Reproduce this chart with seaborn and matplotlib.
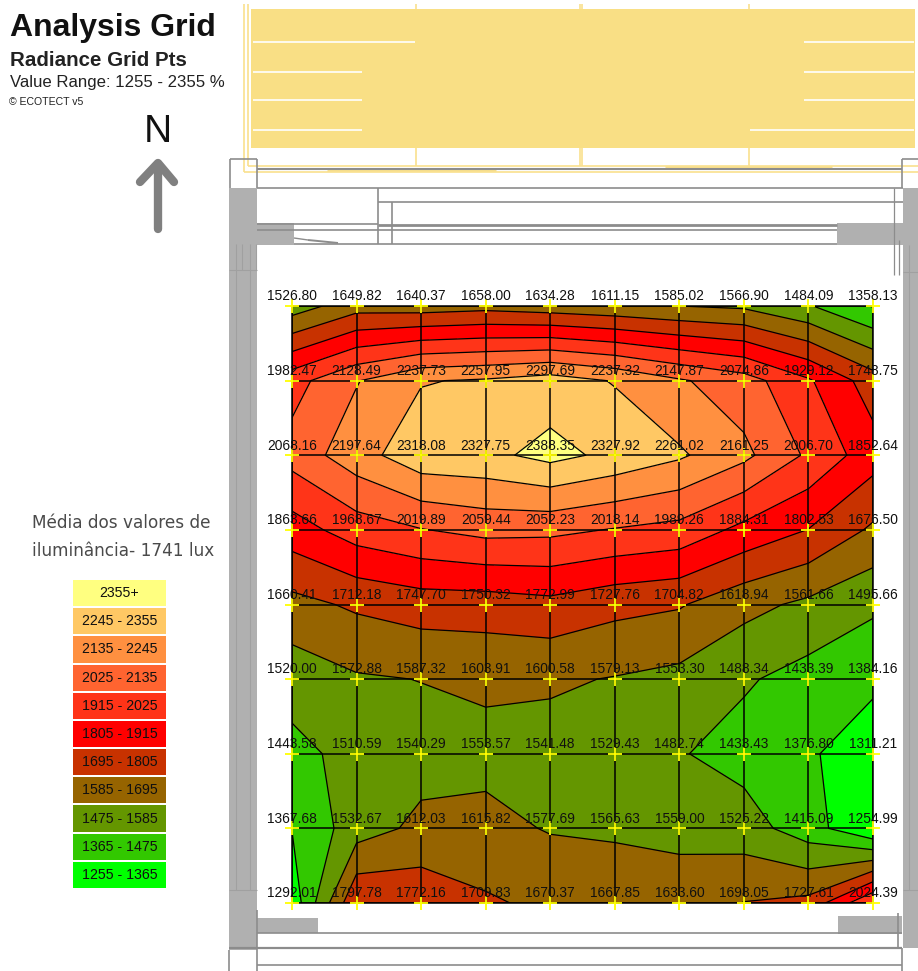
import numpy as np
import pandas as pd
import matplotlib
matplotlib.use("Agg")
import matplotlib.pyplot as plt
from matplotlib.colors import ListedColormap
from matplotlib.patches import Rectangle
import seaborn as sns

# ---------- data ----------
row1 = [1526.80, 1649.82, 1640.37, 1658.00, 1634.28, 1611.15, 1585.02, 1566.90, 1484.09, 1358.13]
row2 = [1982.47, 2128.49, 2237.73, 2257.95, 2297.69, 2237.32, 2147.87, 2074.86, 1929.12, 1748.75]
row3 = [2068.16, 2197.64, 2318.08, 2327.75, 2388.35, 2327.92, 2261.02, 2161.25, 2006.70, 1852.64]
row4 = [1863.66, 1968.67, 2019.89, 2059.44, 2052.23, 2018.14, 1989.26, 1884.31, 1802.53, 1676.50]
row5 = [1660.41, 1712.18, 1747.70, 1750.32, 1772.99, 1727.76, 1704.82, 1618.94, 1561.66, 1495.66]
row6 = [1520.00, 1572.88, 1587.32, 1603.91, 1600.58, 1579.13, 1553.30, 1488.34, 1433.39, 1384.16]
row7 = [1443.58, 1510.59, 1540.29, 1553.57, 1541.48, 1529.43, 1482.74, 1433.43, 1376.80, 1311.21]
row8 = [1367.68, 1532.67, 1612.03, 1615.82, 1577.69, 1565.63, 1559.00, 1525.22, 1415.09, 1254.99]
row9 = [1292.01, 1797.78, 1772.16, 1709.83, 1670.37, 1667.85, 1633.60, 1698.05, 1727.61, 2024.39]

band_edges = [1255, 1365, 1475, 1585, 1695, 1805, 1915, 2025, 2135, 2245, 2355]
band_colors = ["#00FF00", "#32C800", "#649600", "#966400", "#C83200", "#FF0000",
               "#FF3418", "#FF6430", "#FF9040", "#FFC864", "#FFFF80"]
legend_labels = ["2355+", "2245 - 2355", "2135 - 2245", "2025 - 2135", "1915 - 2025",
                 "1805 - 1915", "1695 - 1805", "1585 - 1695", "1475 - 1585",
                 "1365 - 1475", "1255 - 1365"]

# ---------- setup ----------
sns.set_theme(style="white")
plt.rcParams["font.family"] = ["Liberation Sans", "DejaVu Sans"]
W, H = 918, 971
fig = plt.figure(figsize=(W / 100, H / 100), dpi=100, facecolor="white")


def px_axes(x0, y0, x1, y1, **kw):
    return fig.add_axes([x0 / W, 1 - y1 / H, (x1 - x0) / W, (y1 - y0) / H], **kw)


# ---------- building plan (background, in pixels) ----------
bg = px_axes(0, 0, W, H)
bg.set_xlim(0, W)
bg.set_ylim(H, 0)
bg.axis("off")
GF, GL, GD = "#b0b0b0", "#a0a0a0", "#8c8c8c"
YF, YL = "#F9DF85", "#F9E08E"


def box(x0, y0, x1, y1, color):
    bg.add_patch(Rectangle((x0, y0), x1 - x0, y1 - y0, fc=color, ec="none"))


def seg(x0, y0, x1, y1, color=GD, lw=1.2):
    bg.plot([x0, x1], [y0, y1], color=color, lw=lw, solid_capstyle="butt")


# roof overhang
box(251, 9, 915, 148, YF)
for y, l, r in [(42, 415, 804), (72, 362, 804), (100, 362, 804), (130, 362, 750)]:
    seg(253, y, l, y, "white", 1.2)
    seg(r, y, 914, y, "white", 1.2)
seg(244, 4, 244, 172, YL, 1.2)
seg(248, 4, 248, 166, YL, 1.2)
seg(244, 172, 918, 172, YL, 1.2)
seg(248, 166, 918, 166, YL, 1.2)
for x in (416, 580, 582, 749):
    seg(x, 4, x, 9, YL, 1.2)
    seg(x, 148, x, 166, YL, 1.2)
seg(327, 170, 496, 170, YL, 2)
seg(665, 167, 832, 167, YL, 2)

# columns
box(229, 188, 257, 950, GF)
box(903, 188, 918, 948, GF)
for x in (236, 242, 250, 256):
    seg(x, 244, x, 270, GL, 0.8)
for x in (236, 250):
    seg(x, 270, x, 890, GL, 0.8)
seg(229, 270, 257, 270, GL, 0.8)
seg(229, 890, 257, 890, GL, 0.8)
seg(909, 245, 909, 890, GL, 0.8)
seg(903, 272, 918, 272, GL, 0.8)
seg(903, 890, 918, 890, GL, 0.8)
seg(899, 240, 899, 275, GD, 0.9)

# upper wall lines
seg(230, 159, 257, 159)
seg(230, 159, 230, 188)
seg(257, 159, 257, 188)
seg(902, 159, 918, 159)
seg(902, 159, 902, 188)
seg(257, 169, 902, 169, GD, 1.5)
seg(257, 188, 903, 188)
seg(378, 202, 903, 202)
seg(378, 188, 378, 244)
seg(392, 202, 392, 244)
box(257, 223, 294, 245, GF)
box(837, 223, 903, 245, GF)
seg(257, 224, 378, 224)
seg(378, 225, 837, 225, GD, 2)
seg(257, 230, 837, 230)
seg(294, 244, 837, 244)
seg(894, 188, 894, 275, GD, 0.9)
seg(294, 238, 308, 240, GD, 1)
seg(308, 240, 338, 243, GD, 1.4)

# lower wall lines
box(257, 918, 318, 933, GF)
box(838, 916, 902, 934, GF)
seg(257, 933, 902, 933)
seg(229, 948, 902, 948, GD, 1.6)
seg(257, 965, 902, 965)
seg(229, 950, 229, 971)
seg(257, 910, 257, 971)
seg(902, 948, 902, 971)
seg(898, 913, 898, 948)

# ---------- analysis grid ----------
values = np.array([row1, row2, row3, row4, row5, row6, row7, row8, row9])
n_rows, n_cols = values.shape
columns = np.arange(n_cols)
rows = np.arange(n_rows)

ax = px_axes(292, 306, 873, 903)
ax.patch.set_alpha(0)
ax.contourf(columns, rows, values, levels=band_edges, extend="both",
            colors=[band_colors[0]] + band_colors, zorder=1)
ax.contour(columns, rows, values, levels=band_edges, colors="black",
           linewidths=0.9, linestyles="solid", zorder=2)
ax.set_xlim(0, n_cols - 1)
ax.set_ylim(n_rows - 1, 0)
ax.set_xticks(columns)
ax.set_yticks(rows)
ax.set_axisbelow(False)
ax.grid(True, color="black", lw=1.1)
ax.tick_params(left=False, bottom=False, labelleft=False, labelbottom=False)
for s in ax.spines.values():
    s.set_color("black")
    s.set_linewidth(1.1)

cc, rr = np.meshgrid(columns, rows)
points = pd.DataFrame({"col": cc.ravel(), "row": rr.ravel(), "value": values.ravel()})
sns.scatterplot(data=points, x="col", y="row", marker="+", color="#FFFF00",
                s=90, linewidth=1.3, clip_on=False, zorder=4, ax=ax, legend=False)
ax.set_xlabel("")
ax.set_ylabel("")
for _, p in points.iterrows():
    ax.annotate(f"{p['value']:.2f}", (p["col"], p["row"]), xytext=(0, 7),
                textcoords="offset points", ha="center", va="center", fontsize=9.9,
                color="#101010", zorder=5, annotation_clip=False)

# ---------- legend ----------
leg = px_axes(72, 579, 167, 889)
legend_rows = np.arange(len(legend_labels))[:, None]
sns.heatmap(legend_rows, ax=leg, cmap=ListedColormap(band_colors[::-1]), cbar=False,
            annot=np.array(legend_labels)[:, None], fmt="", linewidths=1.2, linecolor="white",
            annot_kws={"fontsize": 10.2, "color": "#101010"},
            xticklabels=False, yticklabels=False)

# ---------- texts ----------
bg.text(10, 28, "Analysis Grid", fontsize=23, fontweight="bold", color="#111111", va="center")
bg.text(10, 60, "Radiance Grid Pts", fontsize=14.8, fontweight="bold", color="#222222", va="center")
bg.text(10, 83, "Value Range: 1255 - 2355 %", fontsize=12.1, color="#222222", va="center")
bg.text(9, 102, "© ECOTECT v5", fontsize=7.6, color="#222222", va="center")
bg.text(158, 132, "N", fontsize=28, color="#111111", ha="center", va="center")
bg.plot([158, 158], [164, 229], color="#808080", lw=6, solid_capstyle="round")
bg.plot([140, 158, 174], [182, 163, 182], color="#808080", lw=6,
        solid_capstyle="round", solid_joinstyle="round")
bg.text(32, 523, "Média dos valores de", fontsize=12.2, color="#4a4a4a", va="center",
        family=["DejaVu Sans"])
bg.text(32, 551, "iluminância- 1741 lux", fontsize=12.2, color="#4a4a4a", va="center",
        family=["DejaVu Sans"])

fig.savefig("out.png", dpi=100)
